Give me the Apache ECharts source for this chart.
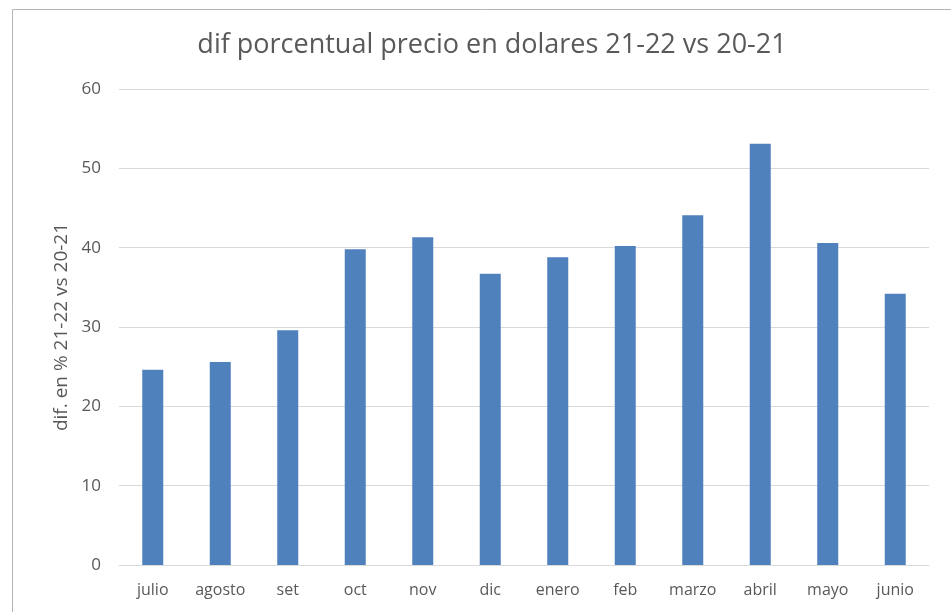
<!DOCTYPE html>
<html>
<head>
<meta charset="utf-8">
<script src="https://cdn.jsdelivr.net/npm/echarts@6/dist/echarts.min.js"></script>
<style>
  html, body { margin: 0; padding: 0; background: #fff; }
  #chart { width: 951px; height: 612px; }
</style>
</head>
<body>
<div id="chart"></div>
<script>
const months = ["julio", "agosto", "set", "oct", "nov", "dic", "enero", "feb", "marzo", "abril", "mayo", "junio"];
const difValues = [24.6, 25.6, 29.6, 39.8, 41.3, 36.7, 38.8, 40.2, 44.1, 53.1, 40.6, 34.2];

const textColor = "#595959";
const fontFamily = "'Open Sans', 'Noto Sans', sans-serif";

const chart = echarts.init(document.getElementById("chart"));

const option = {
  backgroundColor: "#fff",
  animation: false,
  graphic: [
    {
      type: "rect",
      left: 10,
      top: 7,
      shape: { width: 960, height: 620 },
      style: { fill: "none", stroke: "#b4b4b4", lineWidth: 1 },
      silent: true,
    },
  ],
  title: {
    text: "dif porcentual precio en dolares 21-22 vs 20-21",
    left: 487,
    textAlign: "center",
    top: 27,
    textStyle: {
      fontSize: 27,
      fontWeight: "normal",
      color: textColor,
      fontFamily: fontFamily,
    },
  },
  grid: {
    left: 119,
    right: 22,
    top: 89,
    bottom: 47,
  },
  xAxis: {
    type: "category",
    data: months,
    axisLine: { lineStyle: { color: "#d9d9d9", width: 1 } },
    axisTick: { show: false },
    axisLabel: {
      interval: 0,
      color: textColor,
      fontSize: 16,
      fontFamily: fontFamily,
      margin: 17,
    },
  },
  yAxis: {
    type: "value",
    min: 0,
    max: 60,
    interval: 10,
    name: "dif. en % 21-22 vs 20-21",
    nameLocation: "middle",
    nameGap: 46,
    nameTextStyle: {
      color: textColor,
      fontSize: 19,
      fontFamily: fontFamily,
    },
    axisLine: { show: false },
    axisTick: { show: false },
    axisLabel: {
      color: textColor,
      fontSize: 17,
      fontFamily: fontFamily,
      margin: 18,
    },
    splitLine: { lineStyle: { color: "#d9d9d9", width: 1 } },
  },
  series: [
    {
      type: "bar",
      data: difValues,
      barWidth: 21,
      itemStyle: { color: "#4f81bd" },
    },
  ],
};

chart.setOption(option);
</script>
</body>
</html>
